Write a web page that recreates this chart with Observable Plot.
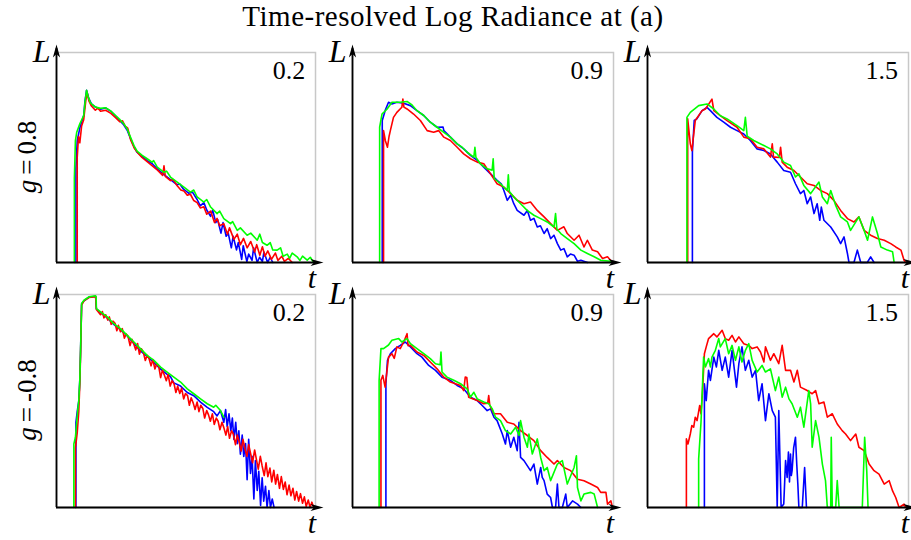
<!DOCTYPE html>
<html><head><meta charset="utf-8">
<script src="https://cdn.jsdelivr.net/npm/d3@7"></script>
<script src="https://cdn.jsdelivr.net/npm/@observablehq/plot@0.6"></script>
<style>
body{margin:0;background:#fff}
#wrap{position:relative;width:911px;height:540px;overflow:hidden;background:#fff;font-family:"Liberation Serif","DejaVu Serif","Times New Roman",Times,serif;color:#000}
.title{position:absolute;left:0;top:0;width:906px;text-align:center;font-size:29px;line-height:normal;letter-spacing:0.5px}
.rowlab{position:absolute;font-size:27px;line-height:27px;white-space:nowrap;transform:translate(-50%,-50%) rotate(-90deg)}
.rowlab .eq{margin:0 5px}
.panel{position:absolute}
</style></head><body>
<div id="wrap">
  <div class="title">Time-resolved Log Radiance at (a)</div>
  <div class="rowlab" style="left:27px;top:157px"><i>g</i><span class="eq">=</span>0.8</div>
  <div class="rowlab" style="left:27px;top:400px"><i>g</i><span class="eq">=</span>-0.8</div>
</div>
<script>
// ---- data: [t, L] (t: 0..100 of time axis, L: 0..100 of log radiance axis)
const rowLabels = ["g = 0.8", "g = -0.8"];
const panelLabels = ["0.2", "0.9", "1.5"];
const seriesColors = ["#0000ff", "#ff0000", "#00ff00"]; // blue, red, green

// Row g = 0.8, 0.2
const tl_blue = [[7.5,0],[7.5,45],[8,58],[9,64],[10.5,70],[11,77],[11.6,82],[12.5,78],[13.5,75.5],[15,74],[17,73],[19,73.6],[21,72],[23,69.5],[24.5,67.5],[26,65.5],[27.3,63],[28.6,59],[30,55],[31.1,52.5],[33,50.5],[35,48.5],[37,47],[39,44.5],[41.4,42],[44,39.5],[46.6,37],[47.5,37.5],[49,35],[51,33],[52.5,33.5],[54.3,30],[55.5,27],[56.9,28.5],[58,25],[59.5,22],[60.3,25],[61.5,19],[62.2,20.5],[63.5,14],[64.3,19],[65.5,12.5],[66.3,14],[67.5,7],[68.2,12.5],[69.5,6],[70.2,9.5],[71.5,1.5],[72.1,8],[73.5,0.5],[74.2,4],[75.5,1],[76.1,7],[77.5,0],[78.4,2.5],[79.5,0.5],[80.1,5],[81.5,0],[82.5,2.5],[83.5,0]];
const tl_red = [[8,0],[8,50],[8.5,60],[9,57],[9.7,65],[10.5,68],[11.3,77],[11.8,81],[12.5,77],[13.5,74.5],[15,72.5],[16,73.5],[17,72],[19,72.5],[21,71],[22.8,69],[24.5,67],[25.5,67.5],[26.5,65],[27.5,64],[28.6,58.5],[30,54.5],[31.5,52],[33,50],[35,48],[37,46],[39,44],[41,41.5],[41.5,46],[42,41],[44,39],[45,39.5],[46.6,36.5],[48,34.5],[49.2,34],[50.5,32],[51.7,32.5],[53,29.5],[54.3,28.5],[55.5,26],[56.9,26.5],[58,23],[59.5,24.5],[61,19],[62,21],[63,17.5],[64.6,18.5],[66,13.5],[66.8,16.5],[68.5,11],[69.8,13.5],[71,8.5],[72.2,11.5],[73.6,7],[75,10],[76.5,5],[77.3,8.5],[78.5,3.5],[79.5,7.5],[80.5,3],[81.6,5.5],[83,1.5],[84.5,4.5],[85.5,1],[87,3],[88,0.5],[89.5,2],[91,0]];
const tl_green = [[6.9,0],[6.9,40],[7.3,58],[7.8,62],[9,66],[10.5,70],[11,76],[11.6,82],[12.2,79],[13.1,76],[14,75],[15.1,74],[17,73.4],[18.9,73.7],[20.8,72.3],[22.8,70],[24.5,68],[26,66],[27.3,63.6],[28.6,59.6],[29.9,55.7],[31.1,53],[33.1,51],[35,49.4],[36.9,47.8],[37.5,48.5],[38.9,45.4],[41.4,43],[42.5,43.5],[44,40.7],[46.6,38.3],[49.2,35.9],[51.7,33.5],[53,34.5],[54.3,31.2],[56.9,28.8],[58,30],[59.5,26.4],[62,23.3],[63,24.5],[64.6,20.9],[67.2,18.5],[68,19.5],[69.8,15.3],[71,16.5],[73.6,13],[75,14],[77.5,10.6],[78.5,13.5],[79.5,9.5],[81.3,8.2],[82.5,9.5],[83.5,6],[85.2,5.9],[86.5,7],[87.5,3],[89.1,4],[90,2],[91,4.5],[92.9,2.7],[94,1],[95,3],[96.8,1.1],[98,2.5],[99,0.5]];

// Row g = 0.8, 0.9
const tm_blue = [[11.4,0],[11.4,67.6],[12.5,72.3],[13.8,76.3],[15.1,75.5],[17,76.3],[19.6,75.8],[22.2,74.7],[24.7,72.3],[27.3,70],[29.8,66.8],[32.4,64.4],[34.7,64.5],[35,62.8],[37.5,59.7],[40.1,56.5],[42.6,54.1],[45.2,51],[47.8,48.6],[50.3,45.4],[52.9,42.2],[55.4,39.1],[57,37.5],[58,34.3],[59.3,29.6],[60.6,32],[61.8,28],[63.1,24.8],[65.7,22.5],[67,24.8],[68.2,20.1],[69.5,21],[70.8,16.9],[72,17.5],[73.4,13.8],[74.6,16.1],[75.9,11.4],[77.2,13],[78.5,9],[79.8,5.9],[81,6.6],[82.3,2.7],[83.5,4],[84.9,3.5],[86.2,0.6],[87.5,1.1],[90,0]];
const tm_red = [[11.9,0],[11.9,62.8],[12.6,58],[13.4,54.9],[14,60],[14.5,62.8],[15.7,69.1],[17,71.5],[18.9,73.9],[19.3,77.8],[19.7,74],[20.9,73.1],[23.4,70.7],[26,67.6],[28.6,62.8],[31.1,62],[33,62.8],[35,59.7],[37.5,58.1],[40.1,54.9],[42.6,51.7],[45.2,49.4],[47.8,47.8],[50.3,47],[52.9,42.2],[55.4,37.5],[58,35.9],[60.6,32.8],[63.1,29.6],[65.7,28],[68.2,28.8],[70.8,24.8],[73.4,21.7],[75.9,18.5],[78.5,15.3],[81,17],[82.3,13.8],[84.9,10.6],[86.8,13],[88.7,7.4],[90,10.6],[91.9,5.9],[93.9,5.1],[95.8,1.9],[97.7,2.7],[99.6,0]];
const tm_green = [[10.4,0],[10.4,64.4],[11.3,70.7],[13.2,73],[15.1,76.3],[18.3,76.3],[20.9,76.7],[22.8,75],[24.7,72.3],[27.3,70],[29.8,66.8],[32.4,64.4],[35,62],[37.5,59.7],[40.1,56.5],[42,54.9],[43.9,52.5],[46.5,50.2],[46.9,54.9],[47.3,50],[49,47],[51.6,44.6],[53.5,44],[53.9,49.4],[54.3,40],[56.7,37.5],[59.3,34.3],[59.7,41.8],[60.1,33.8],[61.8,31.2],[64.4,28],[66.9,24.8],[69.5,22.5],[72.1,20.9],[74.6,19.3],[77.2,16.9],[77.8,23.3],[78.3,16],[79.8,13.8],[82.3,11.4],[84.9,9],[87.5,5.9],[90,4.3],[92.6,2.7],[95.1,1.1],[99,0.6]];

// Row g = 0.8, 1.5
const tr_blue = [[17.2,0],[17.2,52.5],[17.9,67.6],[18.9,68.4],[20.9,72.3],[22.8,73.9],[24.1,72.3],[26.6,69.1],[29.2,66.8],[31.8,64.4],[34.3,62.8],[36.9,61.2],[39.4,58.1],[42,54.1],[44.6,53.3],[47.1,51.7],[49.7,47.8],[52.2,43.8],[54.8,43],[56.7,37.5],[58.6,32.8],[59.9,34.3],[61.2,28],[62.5,31.2],[63.8,23.3],[65,28],[66,20.1],[66.6,26.4],[67.6,20.1],[70.2,16.9],[72.7,12.2],[74,9],[75.3,12.2],[76.6,4.3],[77.2,0],[79.1,0],[80.4,5.9],[81.7,0],[84.2,0],[85.5,2.7],[86.8,0]];
const tr_red = [[15.4,0],[15.4,68.4],[16.4,56.5],[17,53.3],[18.3,67.6],[20.9,72.3],[22.2,73.1],[24.7,77.8],[25.4,72.3],[27.9,69.9],[30.5,67.6],[34.3,64.4],[36.9,59.7],[39.4,58.9],[42,54.9],[44.6,54.1],[47.1,50.2],[47.8,56.5],[48.3,50],[49,50.2],[50.5,50],[51,54.9],[51.6,47.8],[53.5,45.4],[56.1,43.8],[58.6,40.7],[61.2,37.5],[63.8,36.7],[66.3,34.3],[68.9,32.8],[71.4,29.6],[74,24.8],[76.6,20.9],[79.1,19.3],[81,21.7],[83,15.3],[85.5,13],[88.1,11.4],[90.7,10.6],[93.2,9],[95.1,7.4],[97.1,5.9],[98.3,1.1],[99,0]];
const tr_green = [[15.1,0],[15.1,69.1],[16.4,71.5],[19.6,74.7],[22.8,75.5],[25.4,73.1],[27.9,69.9],[30.5,68.4],[34.3,65.2],[36.9,62.8],[37.5,69.1],[38.2,60.1],[40.7,58.1],[44.6,55.7],[47.1,54.1],[49.7,51.7],[52.2,47.8],[54.8,46.2],[56.7,40.7],[58,42.2],[59.9,36.7],[62.5,32.8],[65.7,38.3],[67,31.2],[68.9,28],[70.2,34.3],[72.1,27.2],[74,21.7],[76.6,19.3],[77.8,15.3],[81,21.7],[83,15.3],[84.3,10.6],[86.2,21.7],[88.1,13.8],[89.4,7.4],[91.9,5.9],[93.9,5.1],[94.5,0]];

// Row g = -0.8, 0.2
const bl_blue = [[7.5,0],[7.5,40],[8,45],[8.6,50],[9,60],[9.3,74],[9.7,95.5],[10.6,97],[12.5,98.7],[15.1,99.2],[15.4,93.2],[17,91.5],[19.6,89],[22.1,86],[24.7,83.5],[27.3,80.5],[29.9,77],[32.4,73.5],[35,71],[37.6,68],[40.2,65],[42.7,62.5],[44,61.5],[45.3,58.5],[47.9,57],[50.5,54],[53,52.5],[55.6,49.5],[58.2,47],[60.7,45],[62,43],[63.3,45.5],[64.6,40],[65.3,46],[65.9,38],[66.6,44],[67.3,36],[67.9,42],[68.5,32],[69.2,40],[69.8,30],[70.4,36],[71,25],[71.7,34],[72.3,24],[73,30],[73.6,13],[74.2,32],[74.9,16],[75.5,24],[76.2,4],[76.8,22],[77.5,8],[78.1,17],[78.8,1],[79.4,14],[80,3],[80.7,10],[81.3,0],[82,8],[82.6,0],[83.3,4],[84,0]];
const bl_red = [[7.3,0],[7.3,28],[8,35],[8.6,45],[9,58],[9.3,72],[9.7,95],[10.6,97],[12.5,98.6],[15.1,99],[15.4,93],[17,90.5],[17.7,92],[18.3,89],[19,90.5],[19.8,88],[20.4,89.5],[21.1,86],[21.8,87.5],[22.6,86.5],[23.3,83],[23.9,85.5],[24.7,82.5],[25.4,84],[26.2,79.5],[26.9,81.5],[27.6,80.5],[28.4,76],[29.1,79],[29.9,76.5],[30.6,74],[31.3,77],[32,72],[32.8,74.5],[33.5,73],[34.3,69],[35,71.5],[35.7,70],[36.5,66.5],[37.2,69.5],[38,65],[38.7,67.5],[39.5,66],[40.2,61],[40.9,64.5],[41.7,62],[42.4,59.5],[43.1,62.5],[43.9,57],[44.6,59.5],[45.4,58],[46.1,54],[46.8,57],[47.6,53.5],[48.3,56],[49.1,51],[49.8,53.5],[50.6,52.5],[51.3,48],[52,51.5],[52.8,49],[53.5,46],[54.3,49.5],[55,45],[55.7,48],[56.5,46.5],[57.2,42],[58,45.5],[58.7,43.5],[59.4,40.5],[60.2,44],[60.9,39],[61.7,42],[62.4,40.5],[63.1,36.5],[63.9,40],[64.6,37.5],[65.4,34],[66.1,38],[66.8,32.5],[67.6,36],[68.3,34.5],[69.1,29.5],[69.8,34],[70.5,31],[71.3,26.5],[72,32],[72.8,27.5],[73.5,24],[74.2,29.5],[75,25],[75.7,21],[76.5,27],[77.2,22.5],[77.9,18],[78.7,24],[79.4,19.5],[80.2,15],[80.9,21],[81.6,14.5],[82.4,18.5],[83.1,12],[83.9,17.5],[84.6,11],[85.3,15.5],[86.1,9],[86.8,14.5],[87.6,8.5],[88.3,12],[89,6],[89.8,10.5],[90.5,5.5],[91.3,9],[92,3.5],[92.7,7.5],[93.5,3],[94.2,6.5],[95,2],[95.7,5],[96.4,0.5],[97.2,3.5],[97.9,0],[98.6,2.5],[99.3,0]];
const bl_green = [[6.7,0],[6.7,29.8],[7.3,33],[7.8,40],[8.2,45.5],[8.6,50.2],[9,59.7],[9.3,73.8],[9.7,95.8],[10.6,97.3],[12.5,98.9],[15.1,99.4],[15.3,98.9],[15.4,93.4],[17,91.8],[19.6,89.5],[22.1,86.3],[24.7,84],[27.3,80.8],[29.9,77.7],[32.4,74.6],[35,71.4],[37.6,69.1],[40.2,65.9],[42.7,63.6],[45.3,61.2],[47.9,58.9],[50.5,55.7],[53,53.4],[55.6,51],[58.2,48.7],[60.7,47.1],[61.5,48],[63.3,45.5],[64.6,42.4]];

// Row g = -0.8, 0.9
const bm_blue = [[12.8,0],[12.8,58.1],[13.4,69.1],[14.5,72.2],[16.4,74.6],[18.3,76.1],[20.2,77.7],[22.2,75.4],[24.7,72.2],[26.6,70.6],[29.2,66.7],[31.8,64.4],[34.3,61.2],[37.5,59.7],[40.1,57.3],[42.6,55.7],[45.2,51.8],[47.8,50.2],[49.7,47.9],[51.6,45.5],[52.9,46.3],[54.2,42.4],[55.4,40.8],[57.4,34.5],[58.6,29.8],[59.3,36.1],[60.6,28.3],[61.8,33],[63.1,26.7],[63.8,40],[64.4,23.5],[65.7,22],[68.2,17.3],[69.5,20.4],[70.8,11],[72.1,18.8],[72.7,14.1],[73.4,12.6],[74.6,6.3],[75.9,4.7],[76.6,0],[77.8,0],[78.5,11],[79.1,0],[80.4,0],[81.7,6.3],[82.3,0],[84.3,3.1],[86.2,1.6],[87.5,0]];
const bm_red = [[10.9,0],[10.9,59.7],[11.6,62],[12.5,56.5],[13.1,63],[13.8,70.6],[15.1,72.2],[16,70],[17,75.4],[18.3,74.6],[19.6,77.7],[20.9,81.6],[21.3,76],[22.2,76.1],[24.7,73],[27.3,71.4],[29.8,68.3],[32.4,65.1],[35,61.2],[37.5,58.9],[41.4,57.3],[42.6,54.9],[43.2,61.2],[43.8,61],[44.5,51.8],[47.8,50.2],[50.3,48.7],[51.8,49],[52.2,52.6],[52.6,48],[54.2,44],[56.7,44],[59.3,40],[61.8,39.2],[64.4,36.1],[67,33.8],[69.5,31.4],[72.1,26.7],[74.6,23.5],[77.2,20.4],[78.5,22],[81,18.8],[83.6,17.3],[86.2,13.3],[88.7,12.6],[91.3,11],[93.9,9.4],[95.1,7.1],[97.1,7.1],[97.7,1.6],[99,3.1],[99.6,0]];
const bm_green = [[10.2,0],[10.2,59.7],[10.9,74.6],[11.9,74.6],[13.8,76.3],[15.1,78.5],[17.7,79.3],[18.9,77.7],[20.9,79.3],[22.2,76.9],[24.7,74.6],[27.3,72.2],[29.8,69.9],[31.8,67.5],[33.6,67],[33.9,73],[34.3,63.6],[36.2,61.2],[38.8,59.7],[41.4,58.1],[43.9,55.7],[45.2,51.8],[46.5,54.1],[47.8,51],[50.3,49.5],[52.2,48.7],[53.5,46.4],[54.8,42.4],[56.7,40.8],[58.6,36.1],[60.6,34.5],[62.5,37.7],[63.8,33.8],[64.4,40.8],[65.7,33],[67,28.3],[67.6,34.5],[68.9,25.1],[70.8,32.2],[72.1,23.5],[73.4,17.3],[74.6,18.8],[75.9,12.6],[78.5,20.4],[80.4,22],[82.3,11],[84.9,18.8],[85.8,24.3],[86.2,9.4],[87.5,3.1],[88.7,6.3],[91.3,7.1],[92.6,6.3],[93.9,0]];

// Row g = -0.8, 1.5
const br_blue = [[21.8,0],[21.8,58.1],[22.5,50.2],[23.4,64.4],[24.1,59.7],[25.4,70.6],[26.4,66],[27.3,73.8],[28.6,64.4],[29.8,70.6],[31.1,61.2],[32.4,73.8],[34.1,56.5],[35,67.5],[36.2,75.4],[37.5,64.4],[38.8,69.1],[40.1,61.2],[41.4,64.4],[42.6,50.2],[43.9,58.1],[45.2,40.8],[46.5,53.4],[47.8,45.5],[49,42.4],[49.7,0],[50.3,45.5],[51.2,0],[52.2,1.6],[52.9,22],[53.5,14.1],[54,26],[54.4,12],[54.8,25.1],[55.1,15],[55.4,17.3],[56,28],[56.7,33],[57.2,20],[57.6,11],[58,0],[59.3,0],[60.2,18.8],[60.9,0]];
const br_red = [[14.9,0],[14.9,32.2],[15.5,29.8],[16.4,34.5],[17,38.5],[17.7,37.7],[18.3,42.4],[19,40.8],[20,47.9],[20.5,44],[21.1,54.9],[21.8,72.2],[22.5,75.4],[23.4,79.3],[25.4,81.6],[26.6,80.1],[28.6,83.2],[29.8,79.3],[31.1,78.5],[32.4,80.8],[33.7,77.7],[35,80.1],[36.9,76.9],[38.8,76.1],[40.1,74.6],[42,75.4],[43.3,73],[44.6,68.3],[45.2,75.4],[47.1,69.1],[48.4,72.2],[50.3,67.5],[51.6,76.1],[52.9,64.4],[54.8,64.4],[56.1,58.9],[57.4,64.4],[58.6,56.5],[61.2,54.9],[63.1,53.4],[64.4,54.9],[65.7,48.7],[67.6,49.5],[68.9,42.4],[70.8,44],[72.7,39.2],[74.6,36.1],[75.9,34.5],[77.8,31.4],[79.8,34.5],[81,28.3],[83,26.7],[84.9,20.4],[86.8,17.3],[88.7,15.7],[90.7,11],[92.6,12.6],[93.9,7.8],[95.1,4.7],[96.4,0],[98.3,1.6],[99,0]];
const br_green = [[19.6,0],[19.6,22.8],[20.5,40],[21.5,70.6],[22.2,66],[23.4,69.9],[24.1,66],[24.7,70.6],[26,73.8],[27.3,79.3],[27.9,75.4],[29.8,79.3],[31.1,72.2],[32.4,76.1],[33.7,69.1],[35,75.4],[36.2,68.3],[37.5,73.8],[38.8,76.9],[40.1,69.1],[42,63.6],[43.9,66.7],[45.2,63.6],[47.1,65.1],[49,54.9],[50.3,61.2],[51.6,51.8],[52.9,56.5],[54.2,51],[55.4,48.7],[57.4,42.4],[58.6,47.1],[59.9,37.7],[61.8,54.9],[62.5,48.7],[63.1,28.3],[64.4,40.8],[65.7,33],[67,20.4],[68.2,12.6],[68.9,0],[70.2,0],[70.4,33],[70.8,0],[72.1,0],[72.7,12.6],[73.4,0],[82.3,0],[83.2,33],[84,17.3],[84.5,0]];

const panels = [
  {row:0, col:0, series:[tl_blue, tl_red, tl_green]},
  {row:0, col:1, series:[tm_blue, tm_red, tm_green]},
  {row:0, col:2, series:[tr_blue, tr_red, tr_green]},
  {row:1, col:0, series:[bl_blue, bl_red, bl_green]},
  {row:1, col:1, series:[bm_blue, bm_red, bm_green]},
  {row:1, col:2, series:[br_blue, br_red, br_green]}
];

// layout
const colLeft = [56, 352, 647], colWidth = [259, 261, 261];
const rowTop = [52, 294], rowHeight = [210, 213];
const mL = 40, mR = 4, mT = 20, mB = 32;
const serif = "'Liberation Serif', 'DejaVu Serif', 'Times New Roman', serif";

function arrowSym(dir) {
  return {
    draw(ctx, size) {
      const k = Math.sqrt(size / Math.PI) / 4.5;
      if (dir === "up") {
        ctx.moveTo(0, 0); ctx.lineTo(-3.6*k, 13*k); ctx.lineTo(0, 9.5*k); ctx.lineTo(3.6*k, 13*k); ctx.closePath();
      } else {
        ctx.moveTo(0, 0); ctx.lineTo(-13*k, -3.6*k); ctx.lineTo(-9.5*k, 0); ctx.lineTo(-13*k, 3.6*k); ctx.closePath();
      }
    }
  };
}

const wrap = document.getElementById("wrap");
panels.forEach(p => {
  const w = colWidth[p.col], h = rowHeight[p.row];
  const xTip = 100 + 8 / w * 100, yTip = 100 + 8 / h * 100;
  const marks = [
    Plot.frame({stroke: "#c8c8c8", strokeWidth: 1.5}),
    ...p.series.map((s, i) => Plot.line(s.map(([t, L]) => ({t, L})), {x: "t", y: "L", stroke: seriesColors[i], strokeWidth: 1.6})),
    Plot.ruleY([0], {x1: 0, x2: xTip - 2, stroke: "#000", strokeWidth: 1.8}),
    Plot.ruleX([0], {y1: 0, y2: yTip - 2, stroke: "#000", strokeWidth: 1.8}),
    Plot.dot([{t: xTip, L: 0}], {x: "t", y: "L", symbol: arrowSym("right"), r: 4.5, fill: "#000", stroke: "none"}),
    Plot.dot([{t: 0, L: yTip}], {x: "t", y: "L", symbol: arrowSym("up"), r: 4.5, fill: "#000", stroke: "none"}),
    Plot.text(["L"], {x: 0, y: 100.5, dx: -6, text: d => d, textAnchor: "end", fontSize: 32, fontStyle: "italic", fontFamily: serif, fill: "#000"}),
    Plot.text(["t"], {x: 98.6, y: -7.5, text: d => d, textAnchor: "middle", fontSize: 30, fontStyle: "italic", fontFamily: serif, fill: "#000"}),
    Plot.text([panelLabels[p.col]], {x: 96, y: 91.5, text: d => d, textAnchor: "end", fontSize: 26, fontFamily: serif, fill: "#000"})
  ];
  const svg = Plot.plot({
    width: w + mL + mR, height: h + mT + mB,
    marginLeft: mL, marginRight: mR, marginTop: mT, marginBottom: mB,
    x: {domain: [0, 100], axis: null},
    y: {domain: [0, 100], axis: null},
    style: {background: "transparent", overflow: "visible", maxWidth: "none"},
    marks
  });
  const div = document.createElement("div");
  div.className = "panel";
  div.style.left = (colLeft[p.col] - mL) + "px";
  div.style.top = (rowTop[p.row] - mT) + "px";
  div.appendChild(svg);
  wrap.appendChild(div);
});
</script>
</body></html>
